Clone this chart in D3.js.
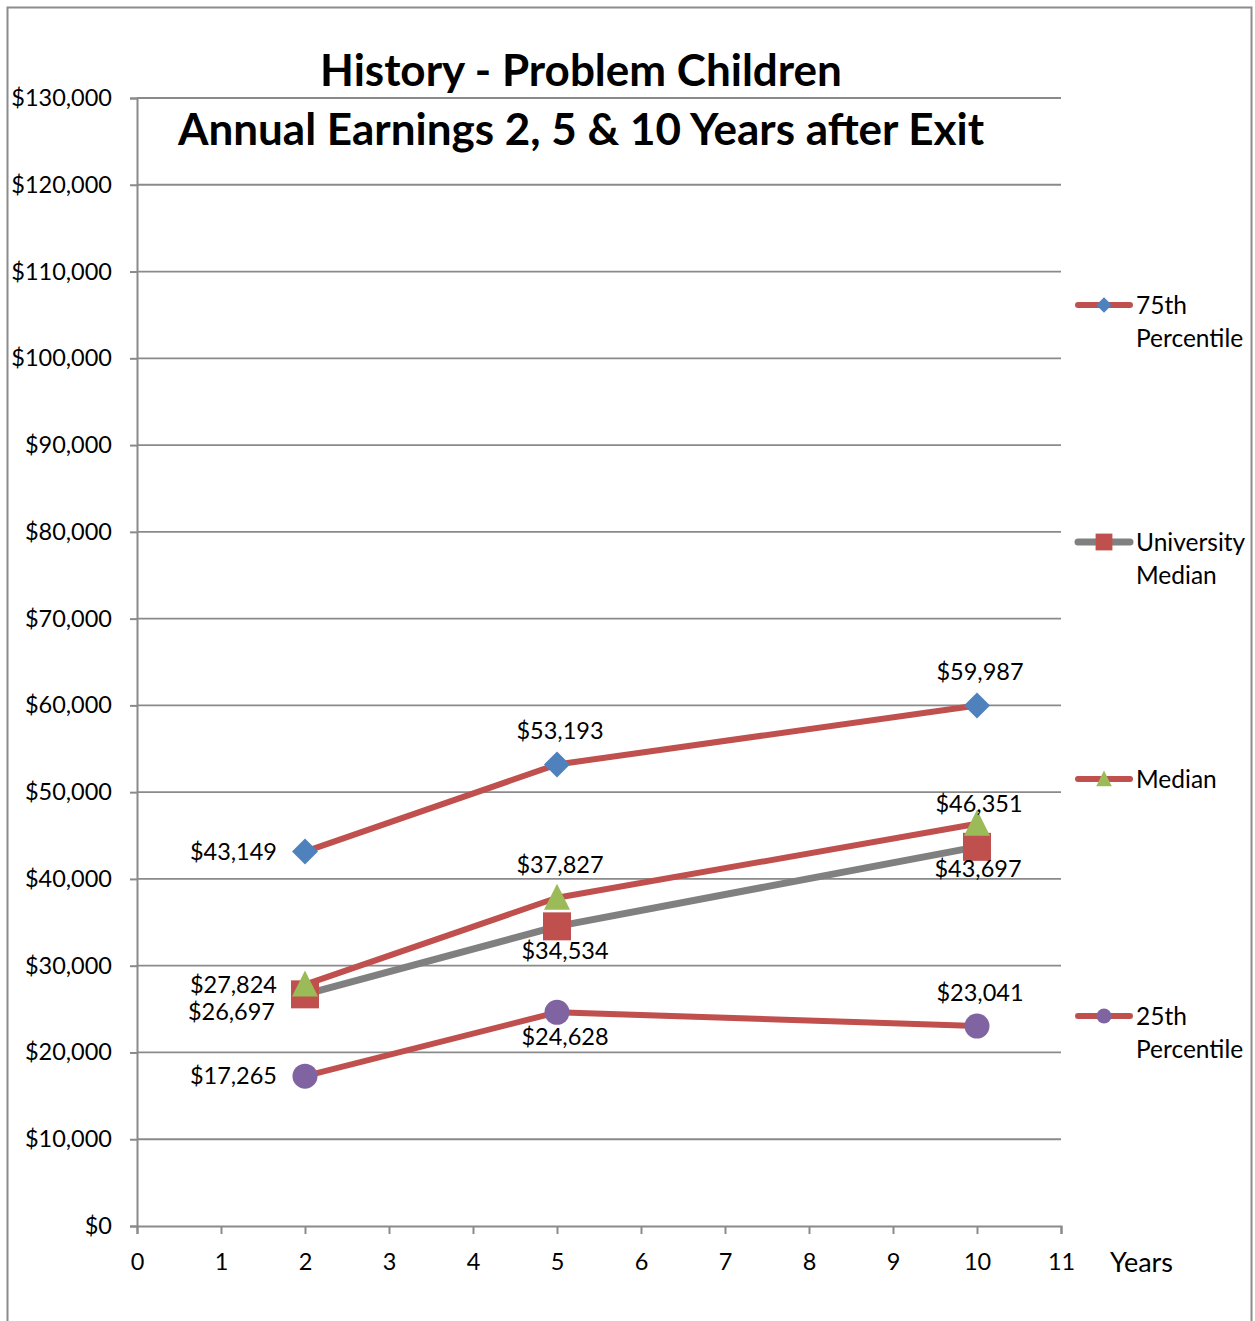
<!DOCTYPE html>
<html><head><meta charset="utf-8">
<script src="https://cdn.jsdelivr.net/npm/d3@7"></script>
<style>body{margin:0;background:#fff}</style>
</head><body>
<script>
const years = [2, 5, 10];
const seriesNames = ["75th Percentile", "University Median", "Median", "25th Percentile"];
const p75 = [43149, 53193, 59987];
const uniMedian = [26697, 34534, 43697];
const median = [27824, 37827, 46351];
const p25 = [17265, 24628, 23041];
const yTicks = [0,10000,20000,30000,40000,50000,60000,70000,80000,90000,100000,110000,120000,130000];
const xTicks = [0,1,2,3,4,5,6,7,8,9,10,11];
const labelPos = [["left","above","above"],["leftBelow","below","belowClose"],["left","above","aboveClose"],["left","below","above"]];
const titleLines = ["History - Problem Children", "Annual Earnings 2, 5 & 10 Years after Exit"];

const W = 1255, H = 1321;
const FONT = "Lato, 'Open Sans', sans-serif";
const svg = d3.select("body").append("svg").attr("width", W).attr("height", H).style("font-family", FONT);

// frame
svg.append("path").attr("d", `M7.5,${H} V7.5 H1251.5 V${H}`).attr("fill","none").attr("stroke","#8c8c8c").attr("stroke-width",2);

const x = d3.scaleLinear().domain([0, 11]).range([137, 1061]);
const y = d3.scaleLinear().domain([0, 130000]).range([1226, 98]);

// gridlines
svg.append("g").selectAll("line").data(yTicks.slice(1)).join("line")
  .attr("x1", x(0)).attr("x2", x(11)).attr("y1", d=>y(d)).attr("y2", d=>y(d))
  .attr("stroke","#8a8a8a").attr("stroke-width",1.8);

// axes
const yAxis = d3.axisLeft(y).tickValues(yTicks).tickSize(7).tickPadding(18)
  .tickFormat(d => "$" + d3.format(",")(d));
const gy = svg.append("g").attr("transform", `translate(${x(0)},0)`).call(yAxis);
const xAxis = d3.axisBottom(x).tickValues(xTicks).tickSize(8).tickPadding(19);
const gx = svg.append("g").attr("transform", `translate(0,${y(0)})`).call(xAxis);
[gy, gx].forEach(g => {
  g.select(".domain").attr("stroke","#8a8a8a").attr("stroke-width",2);
  g.selectAll(".tick line").attr("stroke","#8a8a8a").attr("stroke-width",2);
  g.selectAll("text").attr("fill","#000").style("font-family",FONT).style("font-size","23.5px");
});
gy.selectAll(".tick text").attr("dy","0.32em");
gx.selectAll(".tick text").attr("dy","0.71em");

svg.append("text").attr("x", 1110).attr("y", 1272).text("Years")
  .style("font-size","27px").attr("fill","#000");

// title
svg.append("text").attr("x", 581).attr("y", 86).attr("text-anchor","middle")
  .style("font-size","44px").style("font-weight","bold").text(titleLines[0]);
svg.append("text").attr("x", 581).attr("y", 145).attr("text-anchor","middle")
  .style("font-size","44px").style("font-weight","bold").text(titleLines[1]);

const series = [
  {name: seriesNames[0], values: p75, line: "#c0504d", marker: "diamond", fill: "#4f81bd", lw: 6},
  {name: seriesNames[1], values: uniMedian, line: "#808080", marker: "square", fill: "#c0504d", lw: 7},
  {name: seriesNames[2], values: median, line: "#c0504d", marker: "triangle", fill: "#9bbb59", lw: 6},
  {name: seriesNames[3], values: p25, line: "#c0504d", marker: "circle", fill: "#8064a2", lw: 6},
];

function markerPath(type) {
  if (type === "diamond") return "M0,-13 L13,0 L0,13 L-13,0 Z";
  if (type === "square") return "M-14,-14 H14 V14 H-14 Z";
  if (type === "triangle") return "M0,-14 L13,12 L-13,12 Z";
  return d3.symbol(d3.symbolCircle, Math.PI*12.5*12.5)();
}

const lineGen = d3.line().x((d,i)=>x(years[i])).y(d=>y(d));
series.forEach((s, si) => {
  svg.append("path").attr("d", lineGen(s.values)).attr("fill","none")
    .attr("stroke", s.line).attr("stroke-width", s.lw).attr("stroke-linecap","round").attr("stroke-linejoin","round");
});
series.forEach((s, si) => {
  svg.append("g").selectAll("path").data(s.values).join("path")
    .attr("transform",(d,i)=>`translate(${x(years[i])},${y(d)})`)
    .attr("d", markerPath(s.marker)).attr("fill", s.fill);
});
// labels
const fmt = d => "$" + d3.format(",")(d);
series.forEach((s, si) => {
  s.values.forEach((v, i) => {
    const px = x(years[i]), py = y(v), pos = labelPos[si][i];
    let tx = px, ty = py, anchor = "middle";
    if (pos === "left") { tx = px - 28; ty = py + 8; anchor = "end"; }
    else if (pos === "leftBelow") { tx = px - 30; ty = py + 26; anchor = "end"; }
    else if (pos === "above") { tx = px + 3; ty = py - 25; }
    else if (pos === "aboveClose") { tx = px + 2; ty = py - 12; }
    else if (pos === "below") { tx = px + 8; ty = py + 33; }
    else if (pos === "belowClose") { tx = px + 1; ty = py + 30; }
    svg.append("text").attr("x", tx).attr("y", ty).attr("text-anchor", anchor)
      .style("font-size","23.5px").attr("fill","#000").text(fmt(v));
  });
});

// legend
const legY = [305, 542, 779, 1016];
const legLines = [["75th","Percentile"],["University","Median"],["Median"],["25th","Percentile"]];
series.forEach((s, si) => {
  const g = svg.append("g").attr("transform", `translate(0,${legY[si]})`);
  g.append("line").attr("x1",1078).attr("x2",1130).attr("stroke", s.line).attr("stroke-width", s.lw).attr("stroke-linecap","round");
  g.append("path").attr("transform","translate(1104,0) scale(0.6)").attr("d", markerPath(s.marker)).attr("fill", s.fill);
  legLines[si].forEach((t, k) => {
    g.append("text").attr("x", 1136).attr("y", 9 + k*33).style("font-size","24.5px").attr("fill","#000").text(t);
  });
});
</script>
</body></html>
